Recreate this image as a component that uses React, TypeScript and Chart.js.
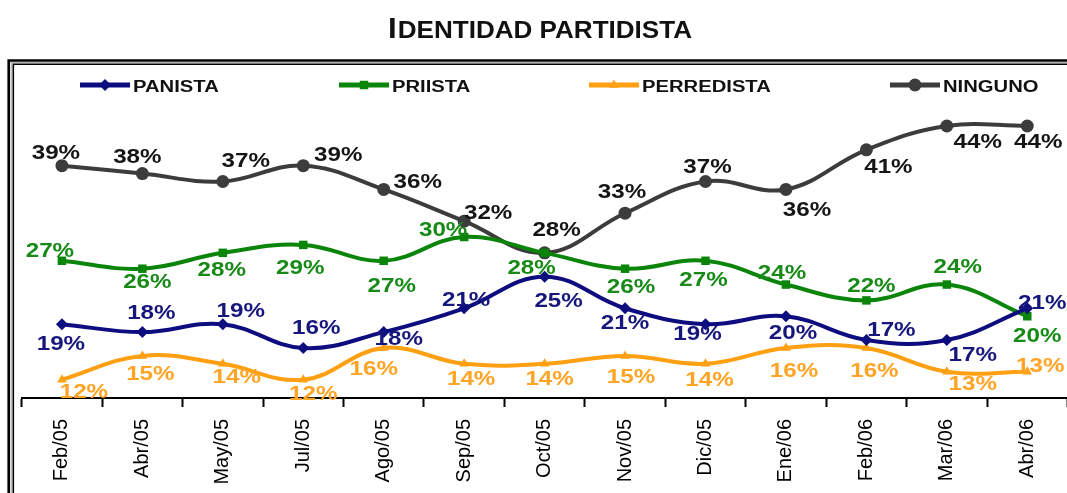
import React, { useEffect, useRef } from 'react';
import { Chart, registerables } from 'chart.js';

Chart.register(...registerables);

// ---- data ----
const categories = ['Feb/05', 'Abr/05', 'May/05', 'Jul/05', 'Ago/05', 'Sep/05', 'Oct/05', 'Nov/05', 'Dic/05', 'Ene/06', 'Feb/06', 'Mar/06', 'Abr/06'];
const panista = [19, 18, 19, 16, 18, 21, 25, 21, 19, 20, 17, 17, 21];
const priista = [27, 26, 28, 29, 27, 30, 28, 26, 27, 24, 22, 24, 20];
const perredista = [12, 15, 14, 12, 16, 14, 14, 15, 14, 16, 16, 13, 13];
const ninguno = [39, 38, 37, 39, 36, 32, 28, 33, 37, 36, 41, 44, 44];
const seriesNames = ['PANISTA', 'PRIISTA', 'PERREDISTA', 'NINGUNO'];
const titleFirst = 'I';
const titleRest = 'DENTIDAD PARTIDISTA';

// ---- styling / label placement (offsets from each point, px) ----
const colors = ['#0d0d80', '#0a850a', '#ff9f12', '#3c3c3c'];
const labelColors = ['#16167c', '#178a17', '#ffa424', '#151515'];
const pointStyles = ['rectRot', 'rect', 'triangle', 'circle'];
const pointRadii = [6, 6, 5.5, 6.5];
const labelOffsets: number[][][] = [
  [[-1, 18], [9, -20], [18, -15], [13, -21], [15, 6], [2, -10], [14, 23], [0, 13], [-8, 8], [7, 15], [25, -11], [26, 14], [15, -7]],
  [[-12, -11], [5, 12], [-1, 16], [-3, 22], [8, 24], [-21, -8], [-13, 14], [6, 17], [-2, 18], [-4, -13], [5, -16], [11, -19], [10, 18]],
  [[22, 11], [8, 17], [14, 12], [10, 13], [-10, 20], [7, 14], [5, 14], [6, 20], [4, 15], [8, 22], [8, 22], [26, 11], [13, -7]],
  [[-6, -14], [-5, -18], [23, -22], [35, -12], [34, -9], [24, -9], [12, -24], [-3, -23], [2, -16], [21, 19], [22, 16], [31, 15], [11, 15]],
];
const legendLineX = [80, 339, 589, 890];
const FONT = "'Liberation Sans', Arial, sans-serif";
const CANVAS_W = 1074;
const CANVAS_H = 493;

function drawMarker(ctx: CanvasRenderingContext2D, style: string, x: number, y: number, r: number) {
  ctx.beginPath();
  if (style === 'circle') {
    ctx.arc(x, y, r, 0, Math.PI * 2);
  } else if (style === 'rectRot') {
    ctx.moveTo(x, y - r); ctx.lineTo(x + r, y); ctx.lineTo(x, y + r); ctx.lineTo(x - r, y); ctx.closePath();
  } else if (style === 'rect') {
    const s = r * Math.SQRT1_2;
    ctx.rect(x - s, y - s, 2 * s, 2 * s);
  } else {
    ctx.moveTo(x, y - r); ctx.lineTo(x + r * 0.87, y + r * 0.5); ctx.lineTo(x - r * 0.87, y + r * 0.5); ctx.closePath();
  }
  ctx.fill();
}

function drawScaledText(ctx: CanvasRenderingContext2D, text: string, cx: number, cy: number, size: number, sx: number, color: string, align: CanvasTextAlign = 'center') {
  ctx.save();
  ctx.font = `bold ${size}px ${FONT}`;
  ctx.fillStyle = color;
  ctx.textAlign = align;
  ctx.textBaseline = 'alphabetic';
  ctx.translate(cx, cy + size * 0.358);
  ctx.scale(sx, 1);
  ctx.fillText(text, 0, 0);
  ctx.restore();
}

const decorPlugin = {
  id: 'decor',
  beforeDraw(chart: any) {
    const ctx: CanvasRenderingContext2D = chart.ctx;
    const W = chart.width, H = chart.height;
    ctx.save();
    ctx.fillStyle = '#ffffff';
    ctx.fillRect(0, 0, W, H);
    // title
    const f1 = 29.5, f2 = 24.5;
    ctx.font = `bold ${f1}px ${FONT}`;
    const w1 = ctx.measureText(titleFirst).width;
    ctx.font = `bold ${f2}px ${FONT}`;
    const w2 = ctx.measureText(titleRest).width;
    const targetW = 304;
    const sx = targetW / (w1 + w2 + 1);
    ctx.translate(388, 38);
    ctx.scale(sx, 1);
    ctx.fillStyle = '#111';
    ctx.textBaseline = 'alphabetic';
    ctx.textAlign = 'left';
    ctx.font = `bold ${f1}px ${FONT}`;
    ctx.fillText(titleFirst, 0, 0);
    ctx.font = `bold ${f2}px ${FONT}`;
    ctx.fillText(titleRest, w1 + 1, 0);
    ctx.restore();

    // double frame
    ctx.save();
    ctx.strokeStyle = '#000';
    ctx.lineWidth = 2.6;
    ctx.beginPath();
    ctx.moveTo(8.7, H + 5); ctx.lineTo(8.7, 60.5); ctx.lineTo(W + 5, 60.5);
    ctx.stroke();
    ctx.strokeStyle = '#b0b0b0';
    ctx.lineWidth = 1.2;
    ctx.beginPath();
    ctx.moveTo(11.2, H + 5); ctx.lineTo(11.2, 62.7); ctx.lineTo(W + 5, 62.7);
    ctx.stroke();
    ctx.strokeStyle = '#000';
    ctx.lineWidth = 1.6;
    ctx.beginPath();
    ctx.moveTo(13.3, H + 5); ctx.lineTo(13.3, 64.3); ctx.lineTo(W + 5, 64.3);
    ctx.stroke();
    ctx.restore();
  },
  afterDraw(chart: any) {
    const ctx: CanvasRenderingContext2D = chart.ctx;
    // legend
    const ly = 85;
    seriesNames.forEach((name, i) => {
      const x0 = legendLineX[i];
      ctx.save();
      ctx.strokeStyle = colors[i];
      ctx.lineWidth = 5;
      ctx.beginPath();
      ctx.moveTo(x0, ly); ctx.lineTo(x0 + 50, ly);
      ctx.stroke();
      ctx.fillStyle = colors[i];
      drawMarker(ctx, pointStyles[i], x0 + 25, ly, pointRadii[i]);
      ctx.restore();
      drawScaledText(ctx, name, x0 + 53, ly + 1.5, 15.8, 1.28, '#111', 'left');
    });
    // data labels
    chart.data.datasets.forEach((ds: any, i: number) => {
      const meta = chart.getDatasetMeta(i);
      meta.data.forEach((pt: any, j: number) => {
        const off = labelOffsets[i][j];
        drawScaledText(ctx, `${ds.data[j]}%`, pt.x + off[0], pt.y + off[1], 20.5, 1.18, labelColors[i]);
      });
    });
  },
};

export default function App() {
  const ref = useRef<HTMLCanvasElement>(null);
  useEffect(() => {
    const canvas = ref.current!;
    const series = [panista, priista, perredista, ninguno];
    const chart = new Chart(canvas, {
      type: 'line',
      data: {
        labels: categories,
        datasets: series.map((d, i) => ({
          label: seriesNames[i],
          data: d,
          borderColor: colors[i],
          backgroundColor: colors[i],
          pointBackgroundColor: colors[i],
          pointBorderColor: colors[i],
          borderWidth: 4,
          pointStyle: pointStyles[i] as any,
          pointRadius: pointRadii[i],
          pointBorderWidth: 0,
          tension: 0.4,
          fill: false,
          clip: false as any,
        })),
      },
      options: {
        responsive: false,
        animation: false,
        devicePixelRatio: 1,
        layout: { padding: { left: 21.7, right: 0.7, top: 100, bottom: 0 } },
        plugins: {
          legend: { display: false },
          title: { display: false },
          tooltip: { enabled: false },
        },
        scales: {
          x: {
            offset: true,
            grid: {
              offset: true,
              drawOnChartArea: false,
              drawTicks: true,
              tickLength: 9,
              tickWidth: 2,
              tickColor: '#000',
            },
            border: { display: true, color: '#000', width: 2 },
            ticks: {
              minRotation: 90,
              maxRotation: 90,
              autoSkip: false,
              padding: 12,
              color: '#000',
              font: { family: FONT, size: 20 },
            },
            afterFit: (s: any) => { s.height = 95; },
          },
          y: { display: false, min: 9.69, max: 47.28 },
        },
      },
      plugins: [decorPlugin],
    });
    return () => chart.destroy();
  }, []);
  return (
    <div style={{ position: 'fixed', left: 0, top: 0, width: 1067, height: 493, background: '#fff', overflow: 'hidden' }}>
      <canvas ref={ref} width={CANVAS_W} height={CANVAS_H} style={{ display: 'block' }} />
    </div>
  );
}
